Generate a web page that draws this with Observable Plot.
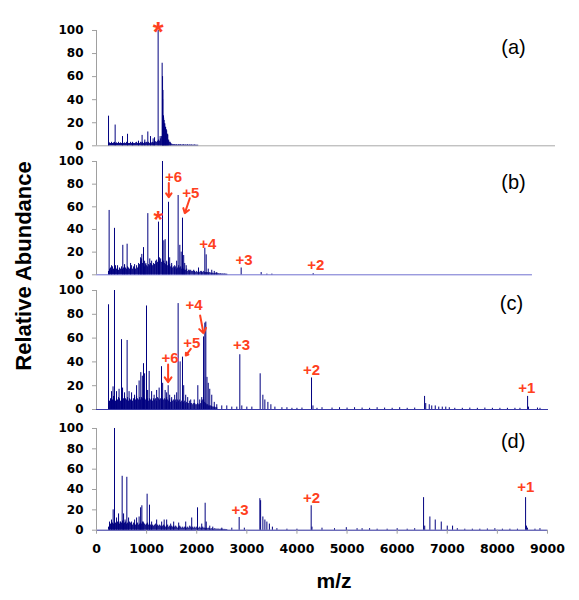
<!DOCTYPE html>
<html>
<head>
<meta charset="utf-8">
<script src="https://cdn.jsdelivr.net/npm/d3@7"></script>
<script src="https://cdn.jsdelivr.net/npm/@observablehq/plot@0.6"></script>
<style>
  body { margin: 0; background: white; }
  #wrap { position: relative; width: 579px; height: 600px; overflow: hidden; background: white; }
  .lab { position: absolute; font-family: "Liberation Sans", Arial, sans-serif; font-weight: bold; color: black; white-space: nowrap; }
</style>
</head>
<body>
<div id="wrap"></div>
<script>
// ---------- data ----------
const xTicks = [0, 1000, 2000, 3000, 4000, 5000, 6000, 7000, 8000, 9000];
const yTicks = [0, 20, 40, 60, 80, 100];
const panelLabels = ["(a)", "(b)", "(c)", "(d)"];

// dense low-level signal, read on a 20 m/z grid starting at 240
const noiseStart = 240, noiseStep = 20;
const noiseA = [2,2.5,2,3,2,2.5,3,2,2.5,2,3, 2,2.5,2,3,2,2.5,2,3,2.5,2,2, 3,2,2.5,2,2,2.5,3,2,2.5,2,3,
  2.5,3,2,3,2.5,3,2.5,3,2,3,2.5, 3,2.5,3,3.5,3,4,5,4,6,8,40, 24,19,16,13,9,5,3,2,1.5,1,1,
  1,0.8,1,0.6,1,0.8,1,0.6,0.8,1,0.6, 0.8,0.6,1,0.5,0.8,0.6,0.8,0.5,0.6,0.8,0.5, 0.5,0.5];
const noiseB = [3,5,6,4,7,5,6,8,5,6,4, 6,5,7,5,6,8,6,5,7,6,5, 6,8,5,7,6,5,8,6,7,9,12,
  14,10,8,7,9,8,7,9,8,10,9, 8,10,9,12,10,11,9,12,14,11,13, 12,10,9,11,8,10,9,7,8,6,7,
  6,7,5,6,8,6,7,5,6,5,4, 4,5,3,4,3,4,3,3,4,3,2, 3,2,3,2,3,2,2,3,2,2,2,
  2,1.5,2,1.5,1,1.5,1,1,1.5,1,1, 1,0.8,1,0.6,0.8,0.6,0.8,0.5,0.5];
const noiseC = [5,7,9,10,8,11,9,7,9,8,10, 9,7,10,8,9,11,9,8,10,7,9, 8,9,7,9,10,8,11,9,8,10,8,
  10,9,12,9,8,10,9,7,9,8,9, 7,9,8,9,7,10,9,8,9,11,9, 8,9,8,10,8,7,9,6,8,7,8,
  7,8,6,8,7,8,6,7,5,6,7, 5,6,5,5,7,5,5,4,5,5,4, 4,5,4,4,5,7,8,8,6,5,4,
  4,3,3,3,2.5,2,2,2,1.5,1.5];
const noiseD = [3,5,6,8,7,6,9,7,6,8,7, 6,8,7,9,6,7,8,6,7,6,8, 7,6,5,7,6,5,6,7,5,6,7,
  6,8,7,6,5,6,7,5,6,5,4, 5,4,5,6,4,5,4,5,4,3,4, 5,4,3,4,5,3,4,3,4,3,4,
  3,4,3,2,3,4,3,2,3,2,3, 3,2,3,2,4,3,2,3,2,3,2, 3,2,2,3,2,2,3,2,2,1.5,2,
  1.5,2,1.5,1,1.5,1,1,1.5,1,1,1, 1,0.8,1,0.8,1,0.6,0.8,0.6,0.6];

// individual peaks [m/z, relative abundance]
const peaksA = [[240,25.7],[372,18],[519,8],[619,10],[720,3],[838,4],[910,9],[964,5],[1024,12],[1078,8],
  [1130,6],[1158,7],[1230,100],[1270,8],[1310,71.6],[1318,60],[1326,48],[1337,26],[1350,22],[1362,19],
  [1377,16],[1392,14],[1405,10],[1420,10],[1440,4],[1470,3]];
const peaksB = [[252,56.8],[300,8],[359,41],[420,8],[525,26],[560,9],[611,27],[680,10],[760,9],[840,10],
  [880,15],[904,18],[938,24],[960,12],[985,10],[1024,54],[1063,14],[1100,12],[1150,9],[1200,13],
  [1237,46.5],[1255,15],[1317,100],[1344,30],[1370,31],[1400,12],[1437,64],[1460,15],[1500,10],[1560,8],
  [1600,12],[1629,70],[1663,26],[1690,20],[1716,50],[1740,17],[1760,10],[1790,8],[1850,4],[1950,3],
  [2036,6],[2100,3],[2162,23.5],[2189,17.6],[2230,5],[2300,4],[2350,3],[2400,2],[2887,6],[3286,2],
  [3400,0.6],[3500,0.6],[4324,1]];
const peaksC = [[240,88],[300,15],[330,19],[359,100],[400,15],[450,17],[499,58.7],[520,18],[560,14],[611,58],
  [650,15],[700,14],[760,12],[800,20],[850,24],[884,31],[915,28],[938,38.5],[960,30],[998,87],
  [1020,16],[1051,32],[1100,15],[1150,12],[1200,16],[1250,18],[1297,36],[1320,22],[1370,16],[1400,14],
  [1430,20],[1460,12],[1500,10],[1560,12],[1600,14],[1629,89],[1669,40],[1716,44],[1740,20],[1780,12],
  [1820,10],[1880,8],[1950,8],[2022,20],[2060,8],[2100,10],[2136,61],[2162,72.6],[2182,73.5],[2205,27],
  [2230,22],[2260,17],[2300,12],[2350,6],[2400,4],[2500,3],[2600,3],[2700,2],[2800,2],[2860,46],
  [2900,3],[3000,2],[3100,2],[3266,30],[3320,12],[3360,8],[3420,6],[3480,4],[3560,2],[3700,1.5],
  [3800,1.5],[3900,1],[4000,1],[4100,1.2],[4291,26.5],[4320,3],[4400,1],[4500,1.5],[4700,1.2],[4850,1.5],
  [5000,1.2],[5150,1.5],[5300,1.2],[5450,1],[5600,1.5],[5750,1.2],[5900,1],[6050,1.5],[6200,1],[6350,1.2],
  [6547,11],[6570,5],[6640,4],[6690,3],[6760,3],[6830,2],[6900,2],[6970,2],[7040,1.5],[7150,1],
  [7300,1],[7450,1.2],[7600,1],[7750,1.2],[7900,1],[8050,1],[8200,1],[8350,1],[8450,1],[8603,11],
  [8620,2],[8800,1.2],[8850,1]];
const peaksD = [[260,8],[300,10],[332,20],[359,100],[400,12],[440,16],[470,8],[512,53],[540,16],[570,10],
  [605,52],[640,12],[700,8],[760,10],[800,12],[850,13],[880,22],[905,24],[930,8],[1010,35.4],
  [1057,24.6],[1100,8],[1200,10],[1300,8],[1350,10],[1400,10],[1480,6],[1540,8],[1640,7],[1780,8],
  [1900,12],[2016,22],[2100,6],[2168,26.5],[2190,8],[2260,4],[2320,3],[2500,2],[2700,2],[2847,12.5],
  [2950,2],[3260,31],[3275,29],[3320,13],[3360,10],[3400,8],[3450,6],[3510,3],[3600,1.5],[3800,1],
  [4000,1],[4284,24],[4300,3],[4500,2],[4750,1.5],[4985,2.5],[5200,1.5],[5300,1.5],[5450,1.5],[5600,1],
  [5800,1],[6000,1.5],[6200,1],[6350,1.5],[6527,32],[6550,4],[6653,13],[6760,10],[6880,8],[7000,4],
  [7106,4],[7200,1.5],[7350,1],[7500,1],[7650,1],[7800,1.2],[7950,1.5],[8100,1],[8250,1],[8400,1],
  [8563,32],[8580,4],[8600,2],[8750,1],[8850,1.5]];

// annotations: [text, m/z, abundance]
const notesA = [["*", 1230, 106]];
const notesB = [["+6", 1537, 86], ["+5", 1882, 72.4], ["*", 1230, 54.4], ["+4", 2222, 27.4], ["+3", 2946, 12.6], ["+2", 4377, 8.2]];
const notesC = [["+4", 1948, 87.4], ["+5", 1902, 55.7], ["+6", 1469, 43], ["+3", 2894, 54.4], ["+2", 4291, 32.8], ["+1", 8589, 17.6]];
const notesD = [["+3", 2866, 19.7], ["+2", 4291, 31.2], ["+1", 8569, 42]];
// arrows: [m/z from, abundance from, m/z to, abundance to]
const arrowsB = [[1443, 81, 1443, 68.5], [1862, 67.6, 1762, 54.4]];
const arrowsC = [[2068, 79, 2136, 64], [1882, 51, 1782, 45.4], [1429, 37.8, 1429, 23]];
const arrowsD = [];
// panel label positions [m/z, abundance]
const labelPos = [[8321, 85.5], [8321, 81.7], [8281, 89], [8315, 86.8]];

// ---------- drawing ----------
const RED = "#ff4020";
const NAVY = "#000080";
const wrap = document.getElementById("wrap");

function buildData(noise, peaks) {
  const rows = noise.map((v, i) => ({mz: noiseStart + i * noiseStep, ab: v}));
  for (const [mz, ab] of peaks) rows.push({mz, ab});
  return rows;
}

function panel({noise, peaks, notes, arrows, label, lpos, y100, y0, showX, baseColor, baseEnd}) {
  const mt = 20, mb = showX ? 40 : 20;
  const rangeH = y0 - y100;
  const data = buildData(noise, peaks);
  const noteRows = notes.map(([t, mz, ab]) => ({t, mz, ab}));
  const textNotes = noteRows.filter(d => d.t !== "*");
  const starNotes = noteRows.filter(d => d.t === "*");
  const arrowRows = arrows.map(([x1, y1, x2, y2]) => ({x1, y1, x2, y2}));
  const svg = Plot.plot({
    width: 579,
    height: rangeH + mt + mb,
    marginLeft: 96, marginRight: 32, marginTop: mt, marginBottom: mb,
    x: {domain: [0, 9000], axis: null},
    y: {domain: [0, 100], axis: null},
    style: {background: "transparent", overflow: "visible", fontFamily: "DejaVu Sans", fontSize: "12px"},
    marks: [
      Plot.ruleY([0], {x1: 0, x2: baseEnd, stroke: baseColor, strokeWidth: 1}),
      Plot.ruleX([0], {y1: 0, y2: 100, stroke: "#a0a0a0"}),
      Plot.axisY({ticks: yTicks, tickSize: 4, tickPadding: 9, stroke: "#a0a0a0", fill: "black",
        fontFamily: "DejaVu Sans", fontWeight: "bold", fontSize: 12, label: null}),
      showX ? Plot.axisX({ticks: xTicks, tickSize: 4, tickPadding: 10, tickFormat: "d", stroke: "#a0a0a0", fill: "black",
        fontFamily: "DejaVu Sans", fontWeight: "bold", fontSize: 12.5, label: null}) : null,
      Plot.ruleX(data, {x: "mz", y1: 0, y2: "ab", stroke: NAVY, strokeWidth: 1}),
      Plot.arrow(arrowRows, {x1: "x1", y1: "y1", x2: "x2", y2: "y2", stroke: RED, strokeWidth: 2, headLength: 7, headAngle: 70}),
      Plot.text(textNotes, {x: "mz", y: "ab", text: "t", fill: RED, fontFamily: "Liberation Sans", fontWeight: "bold", fontSize: 15}),
      Plot.text(starNotes, {x: "mz", y: "ab", text: "t", fill: RED, fontFamily: "Liberation Sans", fontWeight: "bold",
        fontSize: label === "(a)" ? 28 : 24, dy: label === "(a)" ? 8 : 7}),
      Plot.text([lpos], {x: d => d[0], y: d => d[1], text: () => label, fill: "black",
        fontFamily: "Liberation Sans", fontWeight: "normal", fontSize: 20})
    ]
  });
  svg.style.position = "absolute";
  svg.style.left = "0px";
  svg.style.top = (y100 - mt) + "px";
  wrap.appendChild(svg);
}

panel({noise: noiseA, peaks: peaksA, notes: notesA, arrows: [], label: panelLabels[0], lpos: labelPos[0],
  y100: 30, y0: 145.3, showX: false, baseColor: "#a8a8a8", baseEnd: 9160});
panel({noise: noiseB, peaks: peaksB, notes: notesB, arrows: arrowsB, label: panelLabels[1], lpos: labelPos[1],
  y100: 161, y0: 274.3, showX: false, baseColor: "#6f6fd0", baseEnd: 8700});
panel({noise: noiseC, peaks: peaksC, notes: notesC, arrows: arrowsC, label: panelLabels[2], lpos: labelPos[2],
  y100: 290, y0: 409, showX: false, baseColor: "#3a3aa8", baseEnd: 9020});
panel({noise: noiseD, peaks: peaksD, notes: notesD, arrows: arrowsD, label: panelLabels[3], lpos: labelPos[3],
  y100: 428.3, y0: 530, showX: true, baseColor: "#2a2a9a", baseEnd: 9000});

const yl = document.createElement("div");
yl.className = "lab";
yl.textContent = "Relative Abundance";
yl.style.fontSize = "22px";
yl.style.left = "24px"; yl.style.top = "266px";
yl.style.transform = "translate(-50%,-50%) rotate(-90deg)";
wrap.appendChild(yl);

const xl = document.createElement("div");
xl.className = "lab";
xl.textContent = "m/z";
xl.style.fontSize = "21px";
xl.style.left = "334px"; xl.style.top = "581px";
xl.style.transform = "translate(-50%,-50%)";
wrap.appendChild(xl);
</script>
</body>
</html>
